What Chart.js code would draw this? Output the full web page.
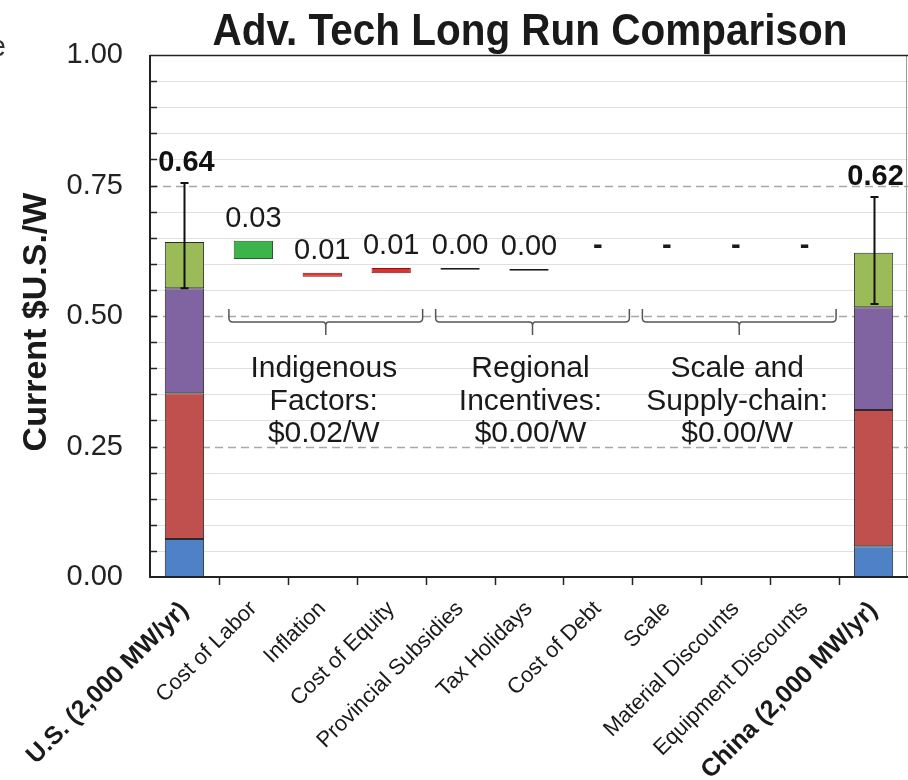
<!DOCTYPE html>
<html><head><meta charset="utf-8">
<script src="https://cdn.jsdelivr.net/npm/chart.js@4.4.1/dist/chart.umd.min.js"></script>
<style>html,body{margin:0;padding:0;background:#fff;overflow:hidden}#wrap{width:908px;height:780px;position:relative}</style>
</head><body><div id="wrap"><canvas id="c" width="908" height="780"></canvas></div>
<script>
// ---------- DATA ----------
const categories = ['U.S. (2,000 MW/yr)', 'Cost of Labor', 'Inflation', 'Cost of Equity', 'Provincial Subsidies',
  'Tax Holidays', 'Cost of Debt', 'Scale', 'Material Discounts', 'Equipment Discounts', 'China (2,000 MW/yr)'];
const yTicks = [0, 0.25, 0.5, 0.75, 1.0];
// stacked cost components for the two end bars (bottom to top)
const compBlue   = [0.073, null, null, null, null, null, null, null, null, null, 0.059];
const compRed    = [0.279, null, null, null, null, null, null, null, null, null, 0.261];
const compPurple = [0.201, null, null, null, null, null, null, null, null, null, 0.197];
const compGreen  = [0.089, null, null, null, null, null, null, null, null, null, 0.104];
const totalLabels = ['0.64', null, null, null, null, null, null, null, null, null, '0.62'];
const errLow  = [0.553, null, null, null, null, null, null, null, null, null, 0.523];
const errHigh = [0.755, null, null, null, null, null, null, null, null, null, 0.728];
// waterfall steps (floating bars)
const stepLow  = [null, 0.609, 0.575, 0.582, 0.5885, 0.5865, null, null, null, null, null];
const stepHigh = [null, 0.644, 0.583, 0.592, 0.5920, 0.5900, null, null, null, null, null];
const stepText = ['', '0.03', '0.01', '0.01', '0.00', '0.00', '-', '-', '-', '-', ''];
const groupFrom  = [1, 4, 7];
const groupTo    = [3, 6, 9];
const groupLines = [['Indigenous', 'Factors:', '$0.02/W'], ['Regional', 'Incentives:', '$0.00/W'], ['Scale and', 'Supply-chain:', '$0.00/W']];

// ---------- STYLE ----------
const FONT = '"Liberation Sans", Arial, Helvetica, sans-serif';
const stepFill = ['', '#3cb44a', '#e0302e', '#e0302e', '#1a1a1a', '#1a1a1a', '', '', '', '', ''];
const stepBorder = ['', '#2a5a2a', '#7a1a1a', '#7a1a1a', '#1a1a1a', '#1a1a1a', '', '', '', '', ''];

function stackRanges(layers, k) {
  return categories.map((c, i) => {
    if (layers[k][i] == null) return null;
    let base = 0;
    for (let j = 0; j < k; j++) base += layers[j][i];
    return [base, base + layers[k][i]];
  });
}
const layers = [compBlue, compRed, compPurple, compGreen];
const layerColors = ['#4f81c6', '#c0504d', '#8064a2', '#9bbb59'];

const common = { grouped: false, barPercentage: 0.57, categoryPercentage: 1.0, borderSkipped: false };
const datasets = layers.map((l, k) => Object.assign({
  data: stackRanges(layers, k), backgroundColor: layerColors[k], borderColor: '#2b2b2b', borderWidth: 1
}, common));
datasets.push(Object.assign({
  data: stepLow.map((l, i) => l == null ? null : [l, stepHigh[i]]),
  backgroundColor: stepFill, borderColor: stepBorder, borderWidth: 1
}, common));

const overlay = {
  id: 'overlay',
  beforeDatasetsDraw(chart) {
    const { ctx, chartArea: a, scales: { y } } = chart;
    ctx.save();
    for (let n = 1; n < 20; n++) {
      const v = n / 20;
      const py = Math.round(y.getPixelForValue(v)) + 0.5;
      const major = n % 5 === 0;
      ctx.beginPath();
      ctx.strokeStyle = major ? '#a8a8a8' : '#e0e0e0';
      ctx.lineWidth = major ? 1.3 : 1;
      ctx.setLineDash(major ? [8, 5] : []);
      ctx.moveTo(a.left, py); ctx.lineTo(a.right, py); ctx.stroke();
    }
    ctx.restore();
  },
  afterDatasetsDraw(chart) {
    const { ctx, chartArea: a, scales: { x, y } } = chart;
    const catW = (a.right - a.left) / categories.length;
    ctx.save();
    // frame
    ctx.setLineDash([]);
    ctx.strokeStyle = '#9a9a9a'; ctx.lineWidth = 1;
    ctx.beginPath(); ctx.moveTo(a.right - 1.5, a.top); ctx.lineTo(a.right - 1.5, a.bottom); ctx.stroke();
    ctx.strokeStyle = '#222'; ctx.lineWidth = 1.5;
    ctx.beginPath(); ctx.moveTo(a.left, a.top + 0.5); ctx.lineTo(a.right, a.top + 0.5); ctx.stroke();
    ctx.lineWidth = 2;
    ctx.beginPath(); ctx.moveTo(a.left, a.top); ctx.lineTo(a.left, a.bottom); ctx.lineTo(a.right, a.bottom); ctx.stroke();
    // y minor ticks (inward)
    ctx.lineWidth = 1.5;
    for (let n = 1; n < 20; n++) {
      const py = Math.round(y.getPixelForValue(n / 20)) + 0.5;
      ctx.beginPath(); ctx.moveTo(a.left, py); ctx.lineTo(a.left + 7, py); ctx.stroke();
    }
    // x ticks at category boundaries (outward)
    for (let i = 1; i < categories.length; i++) {
      const px = Math.round(x.getPixelForValue(i) - catW / 2) + 0.5;
      ctx.beginPath(); ctx.moveTo(px, a.bottom); ctx.lineTo(px, a.bottom + 8); ctx.stroke();
    }
    // error bars
    ctx.strokeStyle = '#111'; ctx.lineWidth = 2;
    categories.forEach((c, i) => {
      if (errLow[i] == null) return;
      const px = Math.round(x.getPixelForValue(i)) + 0.5;
      const y1 = y.getPixelForValue(errLow[i]), y2 = y.getPixelForValue(errHigh[i]);
      ctx.beginPath();
      ctx.moveTo(px, y1); ctx.lineTo(px, y2);
      ctx.moveTo(px - 4, y1); ctx.lineTo(px + 4, y1);
      ctx.moveTo(px - 4, y2); ctx.lineTo(px + 4, y2);
      ctx.stroke();
    });
    // total labels
    ctx.fillStyle = '#111'; ctx.textAlign = 'center'; ctx.textBaseline = 'alphabetic';
    ctx.font = 'bold 29px ' + FONT;
    categories.forEach((c, i) => {
      if (!totalLabels[i]) return;
      ctx.fillText(totalLabels[i], x.getPixelForValue(i) + 2, y.getPixelForValue(errHigh[i]) - 12);
    });
    // step labels
    categories.forEach((c, i) => {
      if (!stepText[i]) return;
      const top = y.getPixelForValue(stepHigh[i] != null ? stepHigh[i] : 0.5925);
      ctx.font = (stepText[i] === '-' ? 'bold ' : '') + '29px ' + FONT;
      ctx.fillStyle = '#1a1a1a';
      ctx.fillText(stepText[i], x.getPixelForValue(i), top - 14);
    });
    // braces
    const yb = y.getPixelForValue(0.5);
    ctx.strokeStyle = '#555'; ctx.lineWidth = 1.5;
    groupFrom.forEach((f, g) => {
      const x0 = x.getPixelForValue(f) - catW / 2 + 10;
      const x1 = x.getPixelForValue(groupTo[g]) + catW / 2 - 3;
      const mid = (x0 + x1) / 2;
      const top = yb - 7, bot = yb + 6, r = 4;
      ctx.beginPath();
      ctx.moveTo(x0, top); ctx.lineTo(x0, bot - r);
      ctx.quadraticCurveTo(x0, bot, x0 + r, bot);
      ctx.lineTo(mid - 3, bot); ctx.quadraticCurveTo(mid, bot, mid, bot + 4);
      ctx.lineTo(mid, bot + 13);
      ctx.moveTo(mid, bot + 4); ctx.quadraticCurveTo(mid, bot, mid + 3, bot);
      ctx.lineTo(x1 - r, bot); ctx.quadraticCurveTo(x1, bot, x1, bot - r);
      ctx.lineTo(x1, top);
      ctx.stroke();
      ctx.fillStyle = '#1a1a1a'; ctx.font = '30px ' + FONT; ctx.textAlign = 'center';
      groupLines[g].forEach((t, k) => ctx.fillText(t, mid - 2, yb + 61 + k * 32.5));
    });
    ctx.restore();
  },
  afterDraw(chart) {
    const { ctx, chartArea: a } = chart;
    ctx.save();
    ctx.fillStyle = '#1a1a1a';
    ctx.textAlign = 'center'; ctx.textBaseline = 'alphabetic';
    ctx.font = 'bold 44px ' + FONT;
    const title = 'Adv. Tech Long Run Comparison';
    const tw = ctx.measureText(title).width;
    const sx = 635 / tw;
    ctx.save();
    ctx.translate(530, 45);
    ctx.scale(sx, 1);
    ctx.fillText(title, 0, 0);
    ctx.restore();
    ctx.translate(37, (a.top + a.bottom) / 2 + 6);
    ctx.rotate(-Math.PI / 2);
    ctx.textBaseline = 'middle';
    ctx.font = 'bold 34px ' + FONT;
    ctx.fillText('Current $U.S./W', 0, 0);
    ctx.restore();
    ctx.save();
    ctx.fillStyle = '#333'; ctx.font = '29px ' + FONT; ctx.textAlign = 'right';
    ctx.fillText('e', 6, 56);
    ctx.restore();
  }
};

new Chart(document.getElementById('c'), {
  type: 'bar',
  data: { labels: categories, datasets },
  options: {
    responsive: false, animation: false,
    layout: { padding: { top: 55, right: 0, left: 0, bottom: 0 } },
    plugins: { legend: { display: false }, tooltip: { enabled: false }, title: { display: false } },
    scales: {
      x: {
        offset: true,
        grid: { display: false }, border: { display: false },
        ticks: {
          autoSkip: false, minRotation: 45, maxRotation: 45, padding: 11, color: '#1a1a1a',
          font: (c) => (c.index === 0 || c.index === categories.length - 1)
            ? { family: FONT, size: 25, weight: 'bold' } : { family: FONT, size: 22 }
        },
        afterFit: (s) => { s.height = 203; }
      },
      y: {
        min: 0, max: 1,
        afterBuildTicks: (s) => { s.ticks = yTicks.map(v => ({ value: v })); },
        grid: { display: false }, border: { display: false },
        ticks: { padding: 19, color: '#222', font: { family: FONT, size: 29 }, callback: (v) => Number(v).toFixed(2) },
        afterFit: (s) => { s.width = 150; }
      }
    }
  },
  plugins: [overlay]
});
</script></body></html>
